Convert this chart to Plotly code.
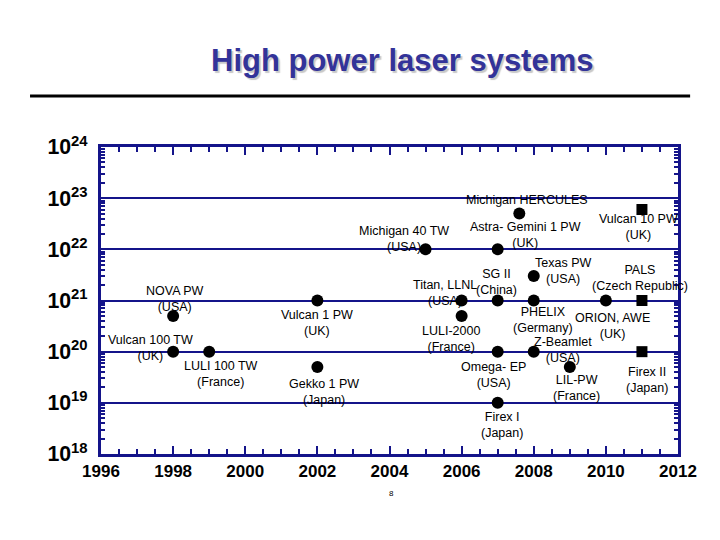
import numpy as np
import plotly.graph_objects as go

# lasers already running (round markers)
circle_names = ["NOVA PW<br>(USA)", "Vulcan 100 TW<br>(UK)", "LULI 100 TW<br>(France)",
                "Vulcan 1 PW<br>(UK)", "Gekko 1 PW<br>(Japan)", "Michigan 40 TW<br>(USA)",
                "Titan, LLNL<br>(USA)", "LULI-2000<br>(France)", "Michigan HERCULES",
                "Astra- Gemini 1 PW<br>(UK)", "SG II<br>(China)", "Omega- EP<br>(USA)",
                "Firex I<br>(Japan)", "Texas PW<br>(USA)", "PHELIX<br>(Germany)",
                "Z-Beamlet<br>(USA)", "LIL-PW<br>(France)", "ORION, AWE<br>(UK)"]
circle_years = [1998, 1998, 1999, 2002, 2002, 2005, 2006, 2006, 2007.6,
                2007, 2007, 2007, 2007, 2008, 2008, 2008, 2009, 2010]
circle_intensity = [5e20, 1e20, 1e20, 1e21, 5e19, 1e22, 1e21, 5e20, 5e22,
                    1e22, 1e21, 1e20, 1e19, 3e21, 1e21, 1e20, 5e19, 1e21]

# planned systems (square markers)
square_names = ["PALS<br>(Czech Republic)", "Firex II<br>(Japan)", "Vulcan 10 PW<br>(UK)"]
square_years = [2011, 2011, 2011]
square_intensity = [1e21, 1e20, 6e22]

# label offsets from the marker, in pixels (x right, y up)
circle_shift = [(2, 17), (-23, 4), (12, -22), (0, -22), (7, -25), (-22, 10),
                (-17, 8), (-11, -23), (8, 14), (28, 14), (-1, 19), (-4, -23),
                (4, -22), (29, 5), (9, -19), (29, 2), (7, -21), (7, -25)]
square_shift = [(-2, 23), (5, -28), (-3, -17)]

navy = "#14148a"
font = "Liberation Sans, Arial, sans-serif"

fig = go.Figure()
fig.add_trace(go.Scatter(x=circle_years, y=circle_intensity, mode="markers",
                         marker=dict(symbol="circle", size=12, color="black"),
                         text=circle_names, hoverinfo="text+x+y"))
fig.add_trace(go.Scatter(x=square_years, y=square_intensity, mode="markers",
                         marker=dict(symbol="square", size=11, color="black"),
                         text=square_names, hoverinfo="text+x+y"))

for names, xs, ys, shifts in [(circle_names, circle_years, circle_intensity, circle_shift),
                              (square_names, square_years, square_intensity, square_shift)]:
    for name, x, y, (dx, dy) in zip(names, xs, ys, shifts):
        fig.add_annotation(x=x, y=np.log10(y), text=name, showarrow=False,
                           xshift=dx, yshift=dy,
                           font=dict(family=font, size=12.5, color="black"))

fig.add_annotation(x=0.5217, y=1.283, xref="paper", yref="paper",
                   xanchor="center", yanchor="middle",
                   text="High power laser systems", showarrow=False,
                   font=dict(family=font, size=31, color="#333399", weight="bold",
                             shadow="2px 2px 1px #c8c8c8"))
fig.add_annotation(x=0.5026, y=-0.15, xref="paper", yref="paper", text="8",
                   showarrow=False, font=dict(family=font, size=8, color="black"))
fig.add_shape(type="line", xref="paper", yref="paper", x0=-0.123, x1=1.021,
              y0=1.166, y1=1.166, line=dict(color="black", width=3))

fig.update_xaxes(range=[1996, 2012], dtick=2, tick0=1996, ticks="inside", ticklen=8,
                 tickwidth=2, tickcolor=navy, showgrid=False, zeroline=False,
                 showline=True, linecolor=navy, linewidth=3, mirror="ticks",
                 tickfont=dict(family=font, size=17, color="black", weight="bold"),
                 minor=dict(dtick=0.5, ticks="inside", ticklen=5, tickwidth=2,
                            tickcolor=navy, showgrid=False))
fig.update_yaxes(type="log", range=[18, 24], dtick=1, exponentformat="power",
                 ticks="inside", ticklen=6, tickwidth=2, tickcolor=navy,
                 showgrid=True, gridcolor=navy, gridwidth=2, zeroline=False,
                 showline=True, linecolor=navy, linewidth=3, mirror="ticks",
                 tickfont=dict(family=font, size=17, color="black", weight="bold"),
                 ticklabelstandoff=7,
                 minor=dict(ticks="inside", ticklen=4, tickwidth=2,
                            tickcolor=navy, showgrid=False))

# the page body adds an 8px margin, so the figure is drawn 8px smaller
fig.update_layout(width=712, height=532, showlegend=False,
                  plot_bgcolor="white", paper_bgcolor="white",
                  margin=dict(l=93, r=42, t=139, b=86))
fig.write_html("out.html")
